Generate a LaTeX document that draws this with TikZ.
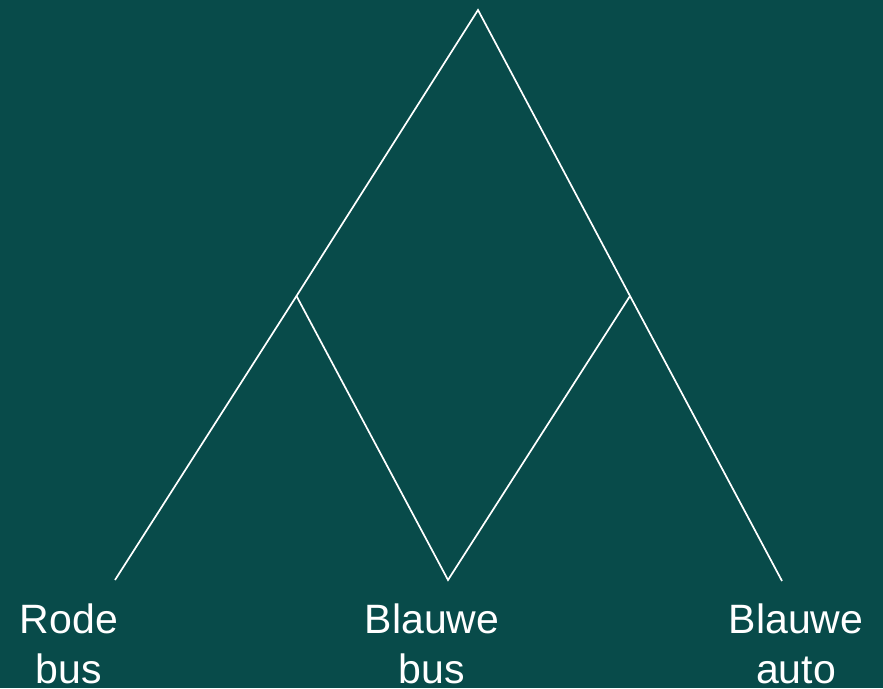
\documentclass[tikz,border=0pt]{standalone}
\usepackage{fontspec}
\setmainfont{Liberation Sans}
\definecolor{bg}{RGB}{8,75,74}
\begin{document}
\begin{tikzpicture}[x=1pt,y=-1pt,
  edge/.style={draw=white,line width=1.7pt},
  lbl/.style={text=white,font=\fontsize{41}{50}\selectfont,align=center,anchor=base,inner sep=0pt}]
\fill[bg] (0,0) rectangle (883,688);
\useasboundingbox (0,0) rectangle (883,688);
\coordinate (top) at (478,10);
\coordinate (jl) at (296.5,296);
\coordinate (jr) at (630,296);
\coordinate (l1) at (115,580);
\coordinate (l2) at (448,580);
\coordinate (l3) at (782,581);
\draw[edge] (l1) -- (jl) -- (top) -- (jr) -- (l3);
\draw[edge] (jl) -- (l2) -- (jr);
\node[lbl] (t1) at (69,683) {Rode\\bus};
\node[lbl] (t2) at (432,683) {Blauwe\\bus};
\node[lbl] (t3) at (796,683) {Blauwe\\auto};
\end{tikzpicture}
\end{document}
